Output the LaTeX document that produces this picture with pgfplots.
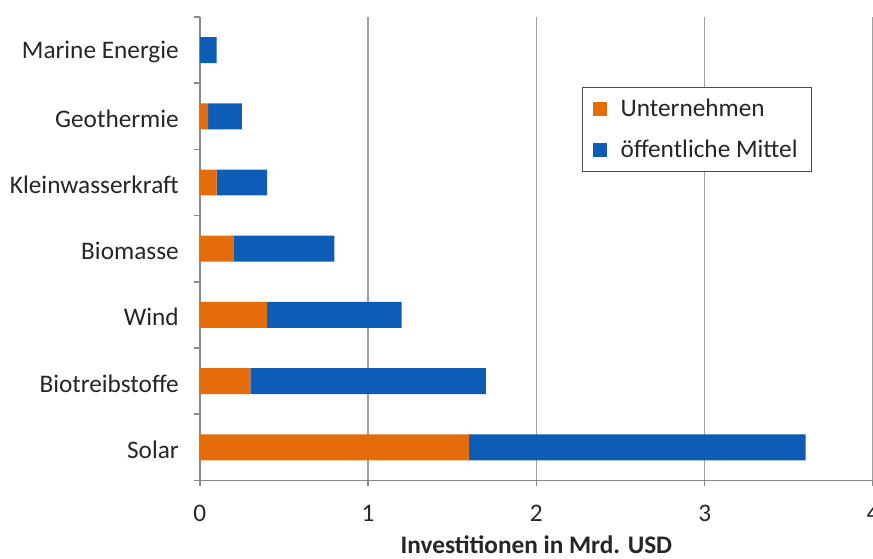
\documentclass[border=0pt]{standalone}
\usepackage{pgfplots}
\pgfplotsset{compat=1.18}
\usepackage{pgfplotstable}
\usepackage{fontspec}
\setmainfont{Carlito}
\definecolor{orangebar}{HTML}{E46C0A}
\definecolor{bluebar}{HTML}{0D5CB6}
\definecolor{gridgray}{HTML}{A0A0A0}
\definecolor{axisgray}{HTML}{8A8A8A}

% Investitionen in Mrd. USD, von unten (Solar) nach oben (Marine Energie)
\pgfplotstableread{
pos unternehmen oeffentlich
0 1.60 2.00
1 0.30 1.40
2 0.40 0.80
3 0.20 0.60
4 0.10 0.30
5 0.05 0.20
6 0.00 0.10
}\invest

\newcommand{\chartfont}{\fontsize{12.7}{14}\selectfont}

\begin{document}
\begin{tikzpicture}
\begin{axis}[
    xbar stacked,
    scale only axis,
    width=337bp, height=232bp,
    xmin=0, xmax=4, ymin=-0.5, ymax=6.5,
    bar width=13bp,
    axis x line*=bottom, axis y line*=left,
    axis line style={axisgray, line width=0.8pt, -},
    xtick={0,1,2,3,4},
    xtick pos=lower, ytick pos=left,
    ytick={0,...,6},
    yticklabels={Solar,Biotreibstoffe,Wind,Biomasse,Kleinwasserkraft,Geothermie,Marine Energie},
    minor ytick={-0.5,0.5,...,6.5},
    tick align=outside,
    major tick length=3bp,
    minor tick length=3bp,
    every tick/.style={axisgray, line width=0.8pt},
    every major y tick/.append style={draw=none},
    xmajorgrids,
    major grid style={gridgray, line width=0.8pt},
    /pgf/number format/assume math mode=true,
    tick label style={font=\chartfont, black!85},
    xticklabel style={yshift=-6bp},
    yticklabel style={xshift=-4bp, yshift=-1.2bp},
    xlabel={Investitionen in Mrd. USD},
    xlabel style={font=\chartfont\bfseries, black!85, yshift=0bp},
    legend style={
        at={(0.568,0.849)}, anchor=north west,
        draw=black!70, line width=0.6pt,
        font=\chartfont, text=black!85,
        inner xsep=5bp, inner ysep=3.5bp,
        row sep=6.5bp,
        cells={anchor=west},
        legend cell align=left,
    },
    legend image code/.code={
        \fill[#1] (0bp,-3.5bp) rectangle (7bp,3.5bp);
        \path (12bp,0bp);
    },
]
\addplot[fill=orangebar, draw=none] table[x=unternehmen, y=pos] {\invest};
\addplot[fill=bluebar, draw=none] table[x=oeffentlich, y=pos] {\invest};
\legend{Unternehmen, öffentliche Mittel}
\coordinate (bl) at (rel axis cs:0,0);
\coordinate (tr) at (rel axis cs:1,1);
\end{axis}
\pgfresetboundingbox
\path ([shift={(-100bp,-39bp)}]bl) rectangle ([shift={(0bp,8.5bp)}]tr);
\end{tikzpicture}
\end{document}
